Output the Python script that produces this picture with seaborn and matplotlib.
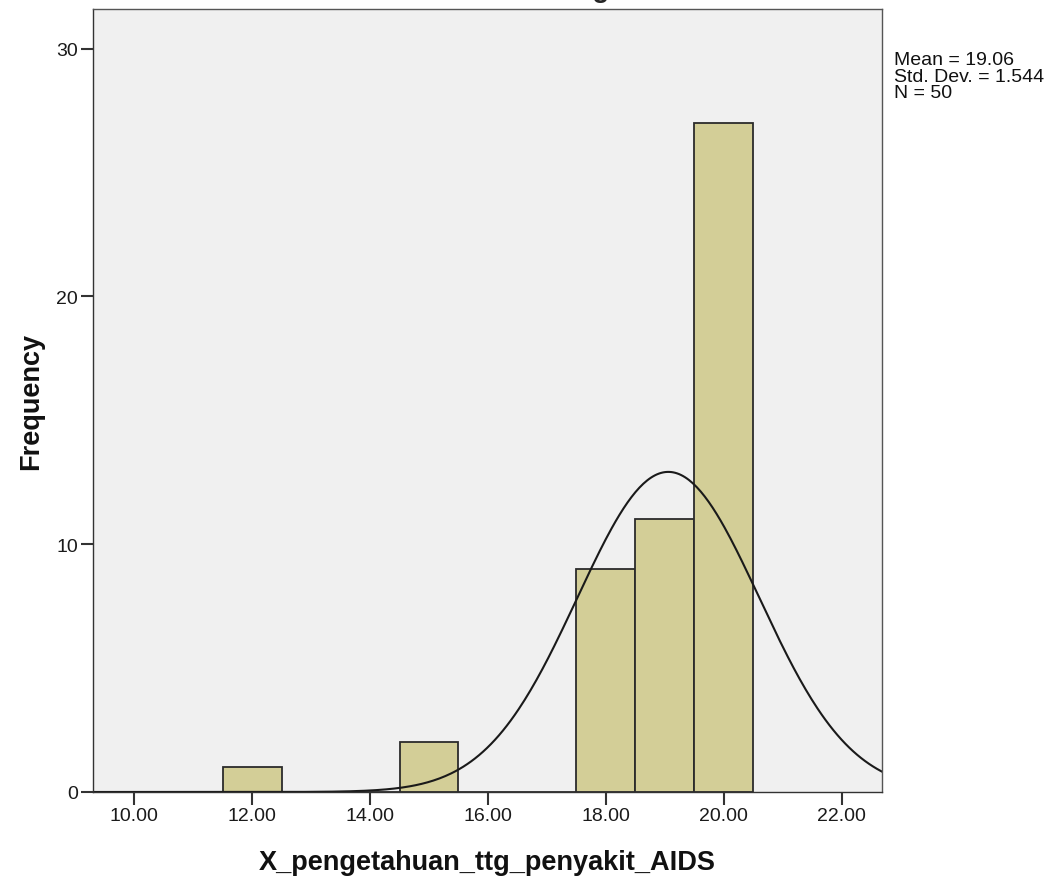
import numpy as np
import pandas as pd
import matplotlib
matplotlib.use("Agg")
import matplotlib.pyplot as plt
import seaborn as sns

# data (bin centres and frequencies)
scores = [12, 15, 18, 19, 20]
counts = [1, 2, 9, 11, 27]

df = pd.DataFrame({"X_pengetahuan_ttg_penyakit_AIDS": scores, "Frequency": counts})

sns.set_style("white")
plt.rcParams["font.family"] = ["Liberation Sans", "DejaVu Sans"]

fig = plt.figure(figsize=(10.61, 8.87), dpi=100)
ax = fig.add_axes([0.0877, 0.106, 0.7433, 0.8827])
ax.set_facecolor("#F0F0F0")

sns.histplot(data=df, x="X_pengetahuan_ttg_penyakit_AIDS", weights="Frequency",
             discrete=True, color="#D3CE97", alpha=1, edgecolor="#2b2b2b",
             linewidth=1.3, ax=ax)

# normal curve from the sample statistics
vals = np.repeat(scores, counts)
n = len(vals)
mean = vals.mean()
sd = vals.std(ddof=1)
xs = np.linspace(9.3, 22.7, 400)
ys = n * 1.0 * np.exp(-0.5 * ((xs - mean) / sd) ** 2) / (sd * np.sqrt(2 * np.pi))
sns.lineplot(x=xs, y=ys, color="#1a1a1a", linewidth=1.5, ax=ax)

ax.set_xlim(9.3, 22.68)
ax.set_ylim(0, 31.6)
ax.set_xticks([10, 12, 14, 16, 18, 20, 22])
ax.set_xticklabels(["10.00", "12.00", "14.00", "16.00", "18.00", "20.00", "22.00"])
ax.set_yticks([0, 10, 20, 30])
ax.tick_params(axis="both", direction="out", length=9, width=1.5, color="#333333",
               labelsize=14, labelcolor="#1a1a1a", left=True, bottom=True, pad=2)
for s in ax.spines.values():
    s.set_color("#555555")
    s.set_linewidth(1.0)
ax.spines["left"].set_color("#333333")
ax.spines["bottom"].set_color("#333333")

ax.set_xlabel("X_pengetahuan_ttg_penyakit_AIDS", fontsize=19.5, fontweight="bold",
              color="#111111")
ax.set_ylabel("Frequency", fontsize=19.5, fontweight="bold", color="#111111")
ax.xaxis.set_label_coords(0.5, -0.073)
ax.yaxis.set_label_coords(-0.062, 0.5)

fig.text(0.843, 0.941, "Mean = %.2f\nStd. Dev. = %.3f\nN = %d" % (mean, sd, n),
         fontsize=14, va="top", ha="left", linespacing=0.94, color="#111111")

# title sits above the visible area, only its descender shows
fig.text(0.558, 1.0 + 3 / 887, "Histogram", fontsize=20, fontweight="bold",
         ha="center", va="baseline")

fig.savefig("out.png", dpi=100)
